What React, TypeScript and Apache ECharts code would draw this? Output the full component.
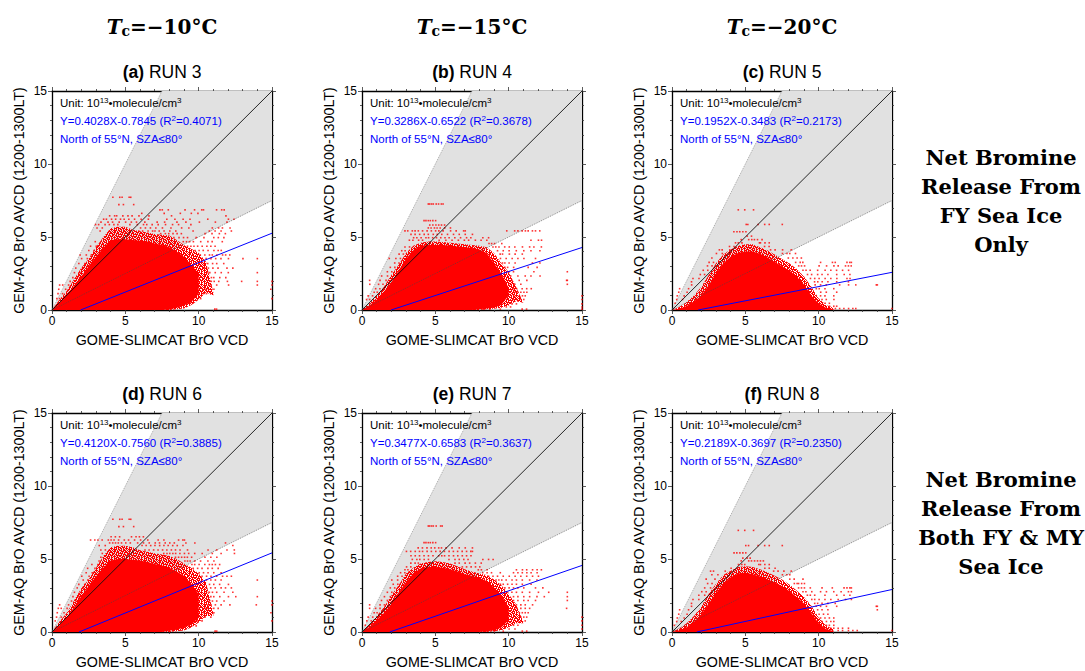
import React, { useEffect, useRef } from "react";
import * as echarts from "echarts";

type Rows = [number, number[]][];

const panelLetters = ["a", "b", "c", "d", "e", "f"];
const runNames = ["RUN 3", "RUN 4", "RUN 5", "RUN 6", "RUN 7", "RUN 8"];
const fitTexts = [
  "Y=0.4028X-0.7845 (R{s|2}=0.4071)",
  "Y=0.3286X-0.6522 (R{s|2}=0.3678)",
  "Y=0.1952X-0.3483 (R{s|2}=0.2173)",
  "Y=0.4120X-0.7560 (R{s|2}=0.3885)",
  "Y=0.3477X-0.6583 (R{s|2}=0.3637)",
  "Y=0.2189X-0.3697 (R{s|2}=0.2350)",
];
const columnHeads = ["=\u221210\u00b0C", "=\u221215\u00b0C", "=\u221220\u00b0C"];
const rowNotesTop = ["Net Bromine", "Release From", "FY Sea Ice", "Only"];
const rowNotesBottom = ["Net Bromine", "Release From", "Both FY & MY", "Sea Ice"];
const xTitle = "GOME-SLIMCAT BrO VCD";
const yTitle = "GEM-AQ BrO AVCD (1200-1300LT)";

const axisTicks = [0, 5, 10, 15];
const wedgeX = [0, 7.5, 15, 15];
const wedgeY = [0, 15, 15, 7.5];
const steepEdge = [[0, 0], [7.5, 15]];
const shallowEdge = [[0, 0], [15, 7.5]];
const oneToOne = [[0, 0], [15, 15]];

const fitLines = [
  [[1.95, 0], [15, 5.26]],
  [[1.98, 0], [15, 4.28]],
  [[1.78, 0], [15, 2.58]],
  [[1.84, 0], [15, 5.42]],
  [[1.89, 0], [15, 4.56]],
  [[1.69, 0], [15, 2.91]],
];

const envelopeX = [0, 0.5, 1, 1.5, 2, 2.5, 3, 3.5, 4, 4.5, 5, 5.5, 6, 6.5, 7, 7.5, 8, 8.5, 9, 9.5, 10, 10.5, 11];

// solid core of each cloud
const upperA = [0, 0.45, 1.0, 1.65, 2.3, 3.0, 3.65, 4.25, 4.8, 4.85, 4.85, 4.8, 4.75, 4.7, 4.55, 4.45, 4.3, 4.0, 3.65, 3.1, 2.5];
const lowerA = [0, 0, 0, 0, 0, 0, 0, 0, 0, 0, 0, 0, 0, 0, 0, 0, 0.03, 0.15, 0.3, 0.55, 1.1];
const upperB = [0, 0.3, 0.7, 1.25, 1.9, 2.7, 3.5, 4.1, 4.4, 4.45, 4.45, 4.45, 4.4, 4.35, 4.3, 4.25, 4.15, 3.9, 3.2, 2.5, 1.5];
const lowerB = [0, 0, 0, 0, 0, 0, 0, 0, 0, 0, 0, 0, 0, 0, 0, 0, 0.05, 0.1, 0.15, 0.35, 1.0];
const upperC = [0, 0.08, 0.28, 0.6, 1.0, 1.7, 2.5, 3.2, 3.65, 3.9, 4.0, 4.0, 3.85, 3.6, 3.3, 3.0, 2.7, 2.3, 1.75, 1.0, 0.45, 0.15, 0.05];
const lowerC = [0, 0, 0, 0, 0, 0, 0, 0, 0, 0, 0, 0, 0, 0, 0, 0, 0, 0, 0, 0, 0, 0, 0];
const upperD = [0, 0.45, 1.0, 1.7, 2.45, 3.15, 3.8, 4.4, 4.9, 5.0, 5.0, 4.95, 4.9, 4.8, 4.65, 4.55, 4.4, 4.15, 3.85, 3.3, 2.6];
const lowerD = [0, 0, 0, 0, 0, 0, 0, 0, 0, 0, 0, 0, 0, 0, 0, 0, 0.08, 0.15, 0.3, 0.5, 1.0];
const upperE = [0, 0.35, 0.8, 1.3, 1.9, 2.7, 3.4, 4.0, 4.35, 4.45, 4.45, 4.4, 4.3, 4.15, 3.95, 3.85, 3.7, 3.5, 3.05, 2.5, 1.7];
const lowerE = [0, 0, 0, 0, 0, 0, 0, 0, 0, 0, 0, 0, 0, 0, 0, 0, 0, 0.05, 0.1, 0.3, 0.8];
const upperF = [0, 0.12, 0.33, 0.7, 1.2, 1.95, 2.65, 3.3, 3.75, 4.0, 4.05, 3.95, 3.8, 3.6, 3.4, 3.15, 2.8, 2.4, 1.95, 1.3, 0.6, 0.2, 0.06];
const lowerF = [0, 0, 0, 0, 0, 0, 0, 0, 0, 0, 0, 0, 0, 0, 0, 0, 0, 0, 0, 0, 0, 0, 0];

// dense but speckled fringe around each core
const haloUpA = [0, 0.7, 1.3, 2.1, 2.9, 3.5, 4.3, 5.0, 5.6, 5.7, 5.7, 5.5, 5.4, 5.3, 5.2, 5.15, 5.1, 4.8, 4.45, 4.2, 3.9, 3.3, 1.2];
const haloLoA = [0, 0, 0, 0, 0, 0, 0, 0, 0, 0, 0, 0, 0, 0, 0, 0, 0, 0.05, 0.1, 0.35, 0.7, 1.2, 1.0];
const haloUpB = [0, 0.45, 1.0, 1.6, 2.4, 3.1, 3.9, 4.4, 4.6, 4.7, 4.7, 4.65, 4.6, 4.55, 4.5, 4.45, 4.4, 4.3, 3.9, 3.2, 2.6, 1.6, 0.5];
const haloLoB = [0, 0, 0, 0, 0, 0, 0, 0, 0, 0, 0, 0, 0, 0, 0, 0, 0, 0.05, 0.08, 0.15, 0.3, 0.6, 0.5];
const haloUpC = [0, 0.2, 0.55, 1.0, 1.6, 2.4, 3.2, 3.8, 4.15, 4.4, 4.5, 4.5, 4.3, 4.1, 3.8, 3.5, 3.2, 2.8, 2.3, 1.6, 0.8, 0.35, 0.15];
const haloLoC = [0, 0, 0, 0, 0, 0, 0, 0, 0, 0, 0, 0, 0, 0, 0, 0, 0, 0, 0, 0, 0, 0, 0];
const haloUpD = [0, 0.7, 1.3, 2.15, 3.0, 3.6, 4.4, 5.2, 5.8, 5.9, 5.9, 5.8, 5.6, 5.5, 5.4, 5.3, 5.2, 5.0, 4.7, 4.4, 4.0, 3.4, 1.3];
const haloLoD = [0, 0, 0, 0, 0, 0, 0, 0, 0, 0, 0, 0, 0, 0, 0, 0, 0, 0.05, 0.1, 0.3, 0.65, 1.1, 1.1];
const haloUpE = [0, 0.5, 1.1, 1.7, 2.5, 3.2, 4.0, 4.4, 4.7, 4.8, 4.85, 4.8, 4.7, 4.5, 4.3, 4.15, 4.0, 3.9, 3.6, 3.2, 2.6, 1.9, 0.7];
const haloLoE = [0, 0, 0, 0, 0, 0, 0, 0, 0, 0, 0, 0, 0, 0, 0, 0, 0, 0, 0.05, 0.12, 0.3, 0.6, 0.6];
const haloUpF = [0, 0.25, 0.6, 1.1, 1.75, 2.6, 3.3, 3.9, 4.2, 4.45, 4.5, 4.45, 4.3, 4.1, 3.85, 3.6, 3.25, 2.85, 2.4, 1.8, 1.0, 0.45, 0.18];
const haloLoF = [0, 0, 0, 0, 0, 0, 0, 0, 0, 0, 0, 0, 0, 0, 0, 0, 0, 0, 0, 0, 0, 0, 0];

const speckleA: Rows = [
  [7.72, [4.15, 4.62, 4.78, 5.26, 5.37]],
  [7.22, [4.56, 4.87, 5.57]],
  [6.86, [7.36, 7.52, 7.93, 9.07, 9.72, 10.21, 10.33, 11.22, 11.57, 11.74]],
  [6.62, [6.12, 7.65, 8.75, 9.5, 9.95]],
  [6.45, [3.93, 4.27, 4.41, 4.83, 5.18, 5.46, 5.93, 6.61, 8.15, 11.86]],
  [6.22, [3.52, 3.71, 4.06, 4.34, 4.67, 4.92, 5.24, 5.63, 6.08, 6.57, 7.83, 8.38, 8.94, 9.41, 10.62, 12.03, 12.41]],
  [6.02, [3.34, 3.82, 4.13, 4.58, 5.02, 5.41, 5.76, 6.33, 7.17, 7.68, 8.52, 9.13, 10.05, 11.14, 11.93]],
  [5.85, [2.97, 3.18, 3.62, 3.91, 4.22, 4.49, 5.31, 5.82, 6.24, 6.46, 6.83, 7.24, 7.74, 8.22, 8.63, 9.47]],
  [5.62, [3.07, 3.43, 6.04, 6.37, 6.71, 7.08, 7.53, 8.11, 8.84, 9.33, 10.93, 11.36, 11.62, 12.14]],
  [5.41, [3.28, 5.92, 6.18, 6.55, 6.86, 7.02, 7.31, 7.64, 8.03, 8.44, 9.62, 10.73, 11.12, 11.53, 12.23]],
  [5.23, [7.41, 7.73, 7.96, 8.25, 8.53, 8.82, 10.44, 10.91, 11.41, 11.82]],
  [4.96, [8.31, 8.66, 8.97, 9.24, 9.83, 10.36, 11.03, 11.34, 11.72]],
  [4.68, [2.95, 8.95, 9.17, 9.38, 9.64, 10.14, 10.63, 10.92, 11.61]],
  [4.37, [2.63, 3.02, 9.24, 9.47, 9.68, 9.93, 10.24, 10.56, 10.83, 11.12]],
  [4.08, [2.51, 2.86, 9.76, 10.03, 10.31, 10.64, 11.04, 11.33, 11.54]],
  [3.77, [1.92, 2.34, 2.68, 10.11, 10.42, 10.74, 10.93, 11.24, 11.63, 11.84, 12.12]],
  [3.52, [2.02, 2.41, 10.23, 10.51, 10.84, 11.16, 11.52, 12.03, 13.02, 14.0]],
  [3.18, [1.83, 2.24, 10.34, 10.62, 10.95, 11.23, 11.71]],
  [2.87, [1.62, 2.08, 10.42, 10.66, 10.97, 11.32, 11.93, 12.33]],
  [2.56, [1.53, 1.91, 10.57, 10.76, 11.13, 11.54, 12.02, 14.0]],
  [2.22, [1.42, 1.73, 10.63, 10.87, 11.03, 11.44, 11.85]],
  [1.96, [1.24, 10.86, 11.06, 11.37, 11.96, 12.93, 14.0, 15.0]],
  [1.71, [0.52, 0.73, 1.13, 10.68, 10.84, 11.23, 12.04, 14.0, 15.0]],
  [1.42, [0.46, 0.93, 10.44, 10.67, 11.04, 14.92]],
  [1.12, [0.41, 0.72, 10.32, 10.53, 10.82]],
  [0.78, [0.33, 0.52, 9.93, 10.14, 15.0]],
  [0.48, [9.42, 9.63]],
  [0.06, [11.1, 11.22]],
];

const speckleB: Rows = [
  [7.26, [4.52, 4.61, 4.74, 4.86, 5.06, 5.22, 5.41, 5.53]],
  [6.12, [4.23, 4.36, 4.52, 4.66, 4.83, 5.02]],
  [5.82, [4.62, 4.83, 5.04, 5.23, 5.42, 5.63]],
  [5.62, [4.52, 4.71, 4.94, 5.12, 5.33, 5.64, 6.03]],
  [5.42, [2.93, 3.12, 3.43, 3.62, 3.84, 4.13, 4.44, 4.73, 5.02, 5.24, 5.53, 6.04, 6.42, 6.93, 7.04, 9.87, 10.41, 10.63, 10.92, 11.14, 11.33, 11.62, 11.83, 12.12]],
  [5.18, [3.34, 3.62, 3.93, 4.24, 4.52, 4.86, 5.13, 5.44, 5.83, 6.24, 6.63, 7.04, 7.53]],
  [4.95, [3.52, 3.74, 4.03, 4.36, 4.54, 4.82, 5.08, 5.37, 5.66, 5.94, 6.33, 6.72, 7.13, 7.42, 8.24, 8.63]],
  [4.78, [3.23, 3.47, 3.86, 4.13, 5.26, 5.72, 6.14, 6.57, 6.98, 7.27, 7.73, 8.12, 8.51, 11.52, 12.03, 12.24]],
  [4.55, [8.66, 8.84, 9.04, 9.53]],
  [4.32, [2.93, 3.24, 8.93, 9.12, 9.34, 9.73, 10.04, 10.42, 10.94, 11.43, 11.72, 12.23]],
  [4.06, [2.71, 2.94, 9.24, 9.63, 10.03, 10.52, 11.03, 11.52, 12.13]],
  [3.83, [2.53, 2.82, 9.42, 9.58, 10.05, 10.44, 10.93]],
  [3.53, [1.86, 2.31, 2.62, 9.44, 9.83, 10.24, 10.63, 11.04, 11.83]],
  [3.22, [2.23, 2.52, 9.58, 9.74, 10.03, 10.44, 11.62, 12.13]],
  [2.92, [1.93, 2.24, 9.74, 9.93, 10.34, 11.33, 11.94]],
  [2.62, [1.73, 2.03, 9.86, 10.04, 10.33, 11.72, 14.0]],
  [2.33, [1.34, 1.74, 10.14, 10.63, 11.13, 11.52, 12.14]],
  [2.03, [0.52, 1.23, 1.64, 10.23, 10.72, 11.24, 13.95, 14.0]],
  [1.76, [0.53, 1.13, 1.43, 10.13, 10.42, 10.83, 14.0]],
  [1.46, [0.93, 1.22, 10.33, 10.54, 10.92, 11.23, 11.54]],
  [1.22, [0.83, 1.04, 10.43, 10.64, 10.83, 11.04, 11.24]],
  [0.97, [0.42, 0.72, 10.34, 10.52, 10.73, 10.94, 11.13, 15.0]],
  [0.72, [0.31, 0.52, 10.33, 10.54, 10.84, 11.03, 15.0]],
  [0.42, [10.23, 10.53, 15.0]],
  [0.21, [9.84, 10.13, 15.0]],
  [0.06, [8.33, 8.72, 9.43, 10.92, 11.22, 15.0]],
];

const speckleC: Rows = [
  [6.86, [4.52, 4.96, 5.56]],
  [5.86, [5.06, 5.17, 5.87, 6.32, 6.63, 7.52]],
  [5.36, [4.22, 4.43, 4.62, 4.83, 5.04]],
  [5.06, [5.13, 5.42]],
  [4.82, [4.72, 5.23, 5.44, 5.62, 5.83, 6.14]],
  [4.6, [4.33, 4.52, 4.77, 5.96, 6.03, 6.34, 6.63]],
  [4.35, [3.92, 4.23, 6.31, 6.62]],
  [4.12, [3.23, 3.42, 3.94, 6.72, 7.03, 7.54, 8.13]],
  [3.87, [3.03, 3.43, 7.53, 7.84, 8.03, 8.42]],
  [3.56, [2.72, 7.93, 8.24, 8.53, 8.82]],
  [3.26, [2.53, 2.83, 8.43, 8.74, 8.92, 10.13, 10.94, 11.13, 11.93, 12.12, 12.23]],
  [3.02, [2.42, 2.73, 8.64, 8.83, 9.04, 10.03, 10.54, 11.04, 11.33, 11.83, 12.03, 12.22]],
  [2.72, [2.13, 2.44, 8.93, 9.14, 9.42, 9.93, 10.44, 10.83, 11.22, 11.63, 12.04]],
  [2.43, [1.93, 2.22, 9.24, 9.52, 9.93, 10.23, 10.63, 11.23, 11.74, 12.13]],
  [2.16, [1.43, 1.84, 9.44, 9.73, 10.03, 10.44, 10.83, 11.24, 11.93, 12.14]],
  [1.93, [1.33, 9.72, 9.94, 10.24, 10.63, 11.23, 12.03]],
  [1.72, [1.34, 9.76, 10.13, 10.52, 11.43, 12.04, 12.53, 13.93, 14.0]],
  [1.46, [0.52, 1.13, 9.84, 10.04, 10.43, 11.03]],
  [1.22, [0.46, 1.03, 10.14, 10.52, 11.23]],
  [0.97, [0.36, 0.83, 10.13, 10.43, 11.03]],
  [0.72, [0.32, 0.72, 10.23, 10.52, 11.04]],
  [0.46, [0.21, 10.44, 10.73]],
  [0.26, [10.74, 11.03, 11.23]],
  [0.1, [11.14, 11.43, 11.72, 12.04, 12.33, 12.53, 15.0]],
];

const speckleD: Rows = [
  [7.72, [4.15, 4.62, 4.78, 5.26, 5.37]],
  [7.22, [4.56, 4.87, 5.57]],
  [6.52, [4.03, 4.32, 4.61, 5.42, 5.73, 5.96, 6.23]],
  [6.3, [2.63, 2.92, 3.13, 3.42, 3.84, 4.03, 4.23, 4.54, 4.93, 5.22, 5.63, 6.04, 6.53, 7.24, 7.63, 8.63, 8.92, 9.03]],
  [6.1, [3.93, 4.14, 4.33, 4.52, 4.74, 5.03, 5.34, 5.84, 6.24, 6.63, 7.04, 7.33, 7.72, 8.03, 8.34, 9.13, 9.74, 11.83]],
  [5.92, [3.22, 3.63, 6.14, 6.42, 6.73, 7.02, 7.34, 7.63, 7.92, 8.23, 8.54, 8.93, 12.33]],
  [5.62, [3.33, 3.64, 6.34, 6.62, 6.93, 7.23, 7.54, 7.83, 8.14, 8.42, 8.73, 9.24, 10.64, 11.23, 11.93, 12.43]],
  [5.38, [3.43, 7.62, 7.84, 8.03, 8.24, 8.43, 8.72, 9.03, 9.32, 9.73, 10.24, 10.93, 11.53, 12.44]],
  [5.12, [3.33, 8.42, 8.63, 8.84, 9.04, 9.23, 9.52, 10.43, 10.83, 11.24]],
  [4.86, [3.21, 9.06, 9.24, 9.42, 9.73, 10.13, 10.63, 11.04]],
  [4.62, [2.72, 3.13, 9.54, 9.73, 10.03, 10.42, 10.73, 10.93, 11.14, 11.43]],
  [4.36, [2.43, 2.93, 9.63, 9.93, 10.23, 10.63, 10.93, 11.33]],
  [4.06, [2.33, 2.74, 10.04, 10.33, 10.64, 11.03, 11.53]],
  [3.82, [2.03, 2.53, 10.23, 10.54, 10.84, 11.23, 11.63, 11.93, 12.23]],
  [3.56, [2.13, 2.44, 10.22, 10.53, 10.83, 11.14, 11.53, 14.0]],
  [3.26, [1.83, 2.23, 10.43, 10.74, 11.03, 11.43, 12.03]],
  [3.02, [1.72, 2.13, 10.53, 10.82, 11.13, 11.53, 11.83, 12.23]],
  [2.72, [1.53, 1.93, 10.54, 10.73, 10.94, 11.23, 11.73, 12.33]],
  [2.42, [1.43, 1.83, 10.64, 10.83, 11.03, 11.44, 12.03, 12.53, 14.0]],
  [2.12, [1.33, 1.63, 10.73, 10.94, 11.23, 11.73, 15.0]],
  [1.86, [0.52, 1.13, 10.64, 10.83, 11.14, 11.53, 12.13, 13.93, 15.0]],
  [1.62, [0.43, 0.63, 1.03, 10.44, 10.63, 11.03, 11.33]],
  [1.32, [0.36, 0.82, 10.33, 10.62, 11.04, 14.93]],
  [1.02, [0.31, 0.63, 10.13, 10.43, 10.83]],
  [0.76, [0.22, 9.93, 10.23, 15.0]],
  [0.42, [9.53, 9.83]],
  [0.06, [11.12, 11.23]],
];

const speckleE: Rows = [
  [7.26, [4.52, 4.61, 4.74, 4.86, 5.06, 5.36, 5.47]],
  [6.12, [4.23, 4.36, 4.52, 4.66, 4.83, 5.02]],
  [5.76, [3.83, 4.12, 4.43, 4.72, 4.96, 5.23, 5.42, 5.73, 6.14, 6.63, 7.04, 7.53]],
  [5.52, [3.03, 3.32, 3.63, 3.92, 4.13, 4.44, 4.73, 5.03, 5.33, 5.62, 5.94, 6.23, 6.52, 6.83, 7.13, 7.42, 7.53]],
  [5.22, [3.34, 3.63, 3.92, 4.23, 4.53, 4.84, 5.23, 5.44, 5.63, 5.93, 6.24, 6.53, 6.84, 7.13, 7.43]],
  [4.97, [3.43, 3.74, 3.94, 4.24, 4.53, 5.93, 6.34, 6.63, 6.94, 7.23, 8.24, 8.63, 8.94]],
  [4.72, [3.33, 3.62, 3.84, 6.34, 6.63, 7.03, 7.34, 7.73, 8.13]],
  [4.46, [3.04, 3.33, 6.84, 7.13, 7.44, 7.74, 8.03]],
  [4.26, [2.93, 3.13, 7.93, 8.14, 8.53, 10.53, 10.94, 11.23, 11.63, 11.94, 12.23]],
  [4.06, [2.63, 2.92, 8.23, 8.53, 8.83, 9.43, 10.33, 10.63, 10.93, 11.24, 11.53, 11.94]],
  [3.82, [2.43, 2.73, 8.63, 8.93, 9.24, 9.63, 10.04, 10.44, 10.83, 11.23, 11.63, 12.03]],
  [3.56, [2.03, 2.43, 9.14, 9.33, 9.53, 9.83, 10.23, 10.53, 10.93, 11.43, 11.93]],
  [3.27, [2.13, 2.44, 9.44, 9.63, 9.93, 10.23, 10.53, 10.93, 11.53]],
  [3.02, [1.93, 2.23, 9.74, 10.03, 10.33, 10.63, 11.03, 11.83, 12.33]],
  [2.72, [1.73, 2.03, 9.93, 10.22, 10.53, 10.93, 11.43, 12.03, 12.73, 14.0]],
  [2.42, [1.53, 1.93, 10.33, 10.63, 11.03, 11.43, 11.93, 12.43, 14.0]],
  [2.16, [1.33, 1.73, 10.33, 10.63, 11.03, 11.33, 11.83, 14.0]],
  [1.86, [0.52, 1.23, 1.53, 10.53, 10.83, 11.13, 11.63]],
  [1.62, [0.52, 0.93, 1.23, 10.53, 10.83, 11.13, 11.43, 13.95]],
  [1.32, [0.83, 1.03, 10.73, 10.93, 11.13, 11.33]],
  [1.02, [0.42, 0.73, 10.83, 11.03, 11.23, 15.0]],
  [0.76, [0.33, 0.63, 10.63, 10.83, 11.13, 15.0]],
  [0.46, [0.22, 10.33, 10.63, 15.0]],
  [0.21, [10.03, 10.43, 15.0]],
  [0.06, [8.53, 9.03, 9.63, 10.93, 11.23]],
];

const speckleF: Rows = [
  [6.96, [4.52, 4.96, 5.56]],
  [5.92, [5.03, 5.22, 5.87, 6.32, 6.63, 7.52]],
  [5.42, [4.23, 4.42, 4.63, 4.83, 5.03]],
  [5.06, [4.83, 5.13, 5.33]],
  [4.87, [4.72, 5.23, 5.42, 5.63, 5.83, 6.03, 6.23]],
  [4.62, [4.53, 4.76, 4.96, 5.92, 6.03, 6.33, 6.63]],
  [4.37, [4.03, 6.33, 6.63, 7.03]],
  [4.17, [2.63, 2.83, 3.63, 6.93, 7.23, 7.63, 8.13]],
  [3.92, [2.72, 3.13, 7.53, 7.83, 8.03]],
  [3.62, [2.33, 2.93, 8.03, 8.33, 8.93]],
  [3.32, [2.43, 2.73, 8.34, 8.53, 8.84, 9.03, 8.63]],
  [3.02, [2.23, 2.63, 8.63, 8.83, 9.03, 9.43, 10.23, 10.93, 11.73, 11.93, 12.13, 12.23]],
  [2.76, [2.03, 2.33, 8.93, 9.13, 9.53, 10.13, 10.53, 11.03, 11.53, 12.03, 12.23]],
  [2.52, [1.83, 2.23, 9.23, 9.43, 9.73, 10.43, 11.23, 11.73, 12.13]],
  [2.23, [1.43, 1.83, 9.53, 9.73, 10.03, 10.43, 10.83, 11.33, 11.83, 12.23]],
  [1.96, [1.33, 9.73, 9.93, 10.23, 10.63, 11.13]],
  [1.76, [1.33, 9.83, 10.13, 10.53, 11.23, 13.93, 14.0]],
  [1.52, [0.52, 1.13, 9.93, 10.23, 10.63, 14.0]],
  [1.22, [0.46, 1.03, 10.03, 10.33, 10.63]],
  [0.96, [0.36, 0.83, 10.13, 10.43, 10.73, 11.03]],
  [0.72, [0.32, 0.63, 10.23, 10.53, 10.83, 11.03]],
  [0.46, [0.16, 10.53, 10.73, 11.03]],
  [0.26, [10.83, 11.03, 11.33, 11.63, 12.03]],
  [0.1, [11.33, 11.63, 12.03, 12.33, 12.63, 15.0]],
];

const uppers = [upperA, upperB, upperC, upperD, upperE, upperF];
const lowers = [lowerA, lowerB, lowerC, lowerD, lowerE, lowerF];
const haloUps = [haloUpA, haloUpB, haloUpC, haloUpD, haloUpE, haloUpF];
const haloLos = [haloLoA, haloLoB, haloLoC, haloLoD, haloLoE, haloLoF];
const speckles = [speckleA, speckleB, speckleC, speckleD, speckleE, speckleF];

// fill texture of the speckled fringe: # is a red dot, . is see-through
const fringeTile = [
  "##.###.#.##.#.#",
  ".###.##.###.##.",
  "#.#.####.#.###.",
  "###.#..###.#.##",
  ".#.###.##.##.#.",
  "##.#.###.#.####",
  "#.###.#.###.#.#",
  ".##.#.##.#.###.",
  "#.###.#..###.##",
  "##.#.###.#.#.#.",
  ".#.##.#.####.##",
];

const gridLefts = [52, 362, 672];
const gridTops = [91, 413];
const gridW = 220;
const gridH = 219;
const sans = '"Liberation Sans", Arial, sans-serif';
const serif = '"DejaVu Serif", serif';

function makeFringeFill(): any {
  const c = document.createElement("canvas");
  c.width = fringeTile[0].length;
  c.height = fringeTile.length;
  const g = c.getContext("2d")!;
  g.fillStyle = "#ff0000";
  fringeTile.forEach((line, y) => {
    for (let x = 0; x < line.length; x++) if (line[x] === "#") g.fillRect(x, y, 1, 1);
  });
  return { image: c, repeat: "repeat", imageWidth: c.width, imageHeight: c.height };
}

function polygonSeries(points: number[][], fill: any, idx: number, z: number) {
  return {
    type: "custom",
    xAxisIndex: idx * 2,
    yAxisIndex: idx * 2,
    z,
    silent: true,
    clip: true,
    data: points,
    renderItem: (p: any, api: any) => {
      if (p.dataIndex !== 0) return null;
      return {
        type: "polygon",
        shape: { points: points.map((q) => api.coord(q)) },
        style: { fill, stroke: "none" },
      };
    },
  };
}

function lineSeries(data: number[][], color: string, width: number, type: any, idx: number, z: number) {
  return {
    type: "line",
    xAxisIndex: idx * 2,
    yAxisIndex: idx * 2,
    z,
    symbol: "none",
    silent: true,
    data,
    lineStyle: { color, width, type },
  };
}

function band(up: number[], lo: number[]) {
  const outline: number[][] = [];
  up.forEach((v, k) => outline.push([envelopeX[k], v]));
  for (let k = up.length - 1; k >= 0; k--) outline.push([envelopeX[k], lo[k]]);
  return outline;
}

function buildOption() {
  const grid: any[] = [];
  const xAxis: any[] = [];
  const yAxis: any[] = [];
  const series: any[] = [];
  const graphic: any[] = [];
  const fringeFill = makeFringeFill();

  const lineCfg = { show: true, onZero: false, lineStyle: { color: "#000", width: 1.3 } };
  const tickCfg = { show: true, length: 4, inside: false, lineStyle: { color: "#333", width: 0.8 } };
  const minorCfg = { show: true, splitNumber: 5, length: 2, lineStyle: { color: "#333", width: 0.8 } };
  const scale = { min: axisTicks[0], max: axisTicks[axisTicks.length - 1], interval: axisTicks[1] - axisTicks[0] };

  panelLetters.forEach((letter, i) => {
    const col = i % 3;
    const row = Math.floor(i / 3);
    const left = gridLefts[col];
    const top = gridTops[row];
    grid.push({ left, top, width: gridW, height: gridH, containLabel: false });

    const labelCfg = { fontFamily: sans, fontSize: 12, color: "#000", margin: 5, showMinLabel: true, showMaxLabel: true, hideOverlap: false };
    xAxis.push({
      gridIndex: i, type: "value", position: "bottom", ...scale,
      name: xTitle, nameLocation: "middle", nameGap: 23,
      nameTextStyle: { fontFamily: sans, fontSize: 14.3, color: "#000" },
      axisLine: lineCfg, axisTick: tickCfg, minorTick: minorCfg,
      axisLabel: labelCfg,
      splitLine: { show: false }, minorSplitLine: { show: false },
    });
    xAxis.push({
      gridIndex: i, type: "value", position: "top", ...scale,
      axisLine: lineCfg, axisTick: tickCfg, minorTick: minorCfg,
      axisLabel: { show: false }, splitLine: { show: false },
    });
    yAxis.push({
      gridIndex: i, type: "value", position: "left", ...scale,
      name: yTitle, nameLocation: "middle", nameGap: 26,
      nameTextStyle: { fontFamily: sans, fontSize: 14.3, color: "#000" },
      axisLine: lineCfg, axisTick: tickCfg, minorTick: minorCfg,
      axisLabel: labelCfg,
      splitLine: { show: false },
    });
    yAxis.push({
      gridIndex: i, type: "value", position: "right", ...scale,
      axisLine: lineCfg, axisTick: tickCfg, minorTick: minorCfg,
      axisLabel: { show: false }, splitLine: { show: false },
    });

    series.push(polygonSeries(wedgeX.map((x, k) => [x, wedgeY[k]]), "#e1e1e1", i, 1));
    series.push(lineSeries(steepEdge, "#777", 0.6, [1, 1], i, 2));
    series.push(polygonSeries(band(haloUps[i], haloLos[i]), fringeFill, i, 3));
    series.push(polygonSeries(band(uppers[i], lowers[i]), "#ff0000", i, 4));

    const pts: number[][] = [];
    speckles[i].forEach(([y, xs]) => xs.forEach((x) => pts.push([x, y])));
    series.push({
      type: "scatter", xAxisIndex: i * 2, yAxisIndex: i * 2, z: 5, silent: true,
      symbol: "rect", symbolSize: 1.6, itemStyle: { color: "#ff0000" }, data: pts,
    });

    series.push(lineSeries(shallowEdge, "#444", 0.6, [1, 1], i, 6));
    series.push(lineSeries(oneToOne, "#111", 0.9, "solid", i, 7));
    series.push(lineSeries(fitLines[i], "#0000ff", 1, "solid", i, 8));

    const cx = left + gridW / 2;
    graphic.push({
      type: "text", x: cx, y: top - 19, z: 20, silent: true,
      style: {
        text: `{b|(${letter})}{r| ${runNames[i]}}`,
        align: "center", verticalAlign: "middle",
        rich: {
          b: { fontFamily: sans, fontSize: 17.5, fontWeight: "bold", fill: "#000" },
          r: { fontFamily: sans, fontSize: 17.5, fill: "#000" },
        },
      },
    });

    const ax = left + 8;
    const supStyle = (fill: string) => ({ fontFamily: sans, fontSize: 8, fill, lineHeight: 8, verticalAlign: "top" });
    const baseStyle = (fill: string) => ({ fontFamily: sans, fontSize: 11.5, fill, lineHeight: 14, verticalAlign: "middle" });
    graphic.push({
      type: "text", x: ax, y: top + 12, z: 20, silent: true,
      style: {
        text: "{n|Unit: 10}{s|13}{n|\u2022molecule/cm}{s|3}",
        align: "left", verticalAlign: "middle",
        rich: { n: baseStyle("#000"), s: supStyle("#000") },
      },
    });
    graphic.push({
      type: "text", x: ax, y: top + 30, z: 20, silent: true,
      style: {
        text: fitTexts[i].replace(/^(.*)\{s\|2\}(.*)$/, "{n|$1}{s|2}{n|$2}"),
        align: "left", verticalAlign: "middle",
        rich: { n: baseStyle("#0000ff"), s: supStyle("#0000ff") },
      },
    });
    graphic.push({
      type: "text", x: ax, y: top + 48, z: 20, silent: true,
      style: {
        text: "North of 55\u00b0N, SZA\u226480\u00b0",
        fontFamily: sans, fontSize: 11.5, fill: "#0000ff", align: "left", verticalAlign: "middle",
      },
    });
  });

  columnHeads.forEach((h, c) => {
    graphic.push({
      type: "text", x: gridLefts[c] + gridW / 2, y: 27, z: 20, silent: true,
      style: {
        text: `{t|T}{c|c}{n|${h}}`,
        align: "center", verticalAlign: "middle",
        rich: {
          t: { fontFamily: serif, fontSize: 20, fontWeight: "bold", fontStyle: "italic", fill: "#000", lineHeight: 22, verticalAlign: "middle" },
          c: { fontFamily: serif, fontSize: 14, fontWeight: "bold", fill: "#000", lineHeight: 10, verticalAlign: "bottom" },
          n: { fontFamily: serif, fontSize: 20, fontWeight: "bold", fill: "#000", lineHeight: 22, verticalAlign: "middle" },
        },
      },
    });
  });

  const note = (lines: string[], y0: number) =>
    lines.forEach((t, k) =>
      graphic.push({
        type: "text", x: 1001, y: y0 + k * 29, z: 20, silent: true,
        style: {
          text: t, fontFamily: serif, fontSize: 21, fontWeight: "bold", fill: "#000",
          align: "center", verticalAlign: "middle",
        },
      })
    );
  note(rowNotesTop, 157);
  note(rowNotesBottom, 479);

  return { animation: false, backgroundColor: "#fff", grid, xAxis, yAxis, series, graphic, tooltip: { show: false } };
}

export default function App() {
  const ref = useRef<HTMLDivElement>(null);
  useEffect(() => {
    document.body.style.margin = "0";
    const chart = echarts.init(ref.current!, undefined, { renderer: "svg" });
    chart.setOption(buildOption() as any);
    return () => chart.dispose();
  }, []);
  return <div ref={ref} style={{ width: 1085, height: 671 }} />;
}
